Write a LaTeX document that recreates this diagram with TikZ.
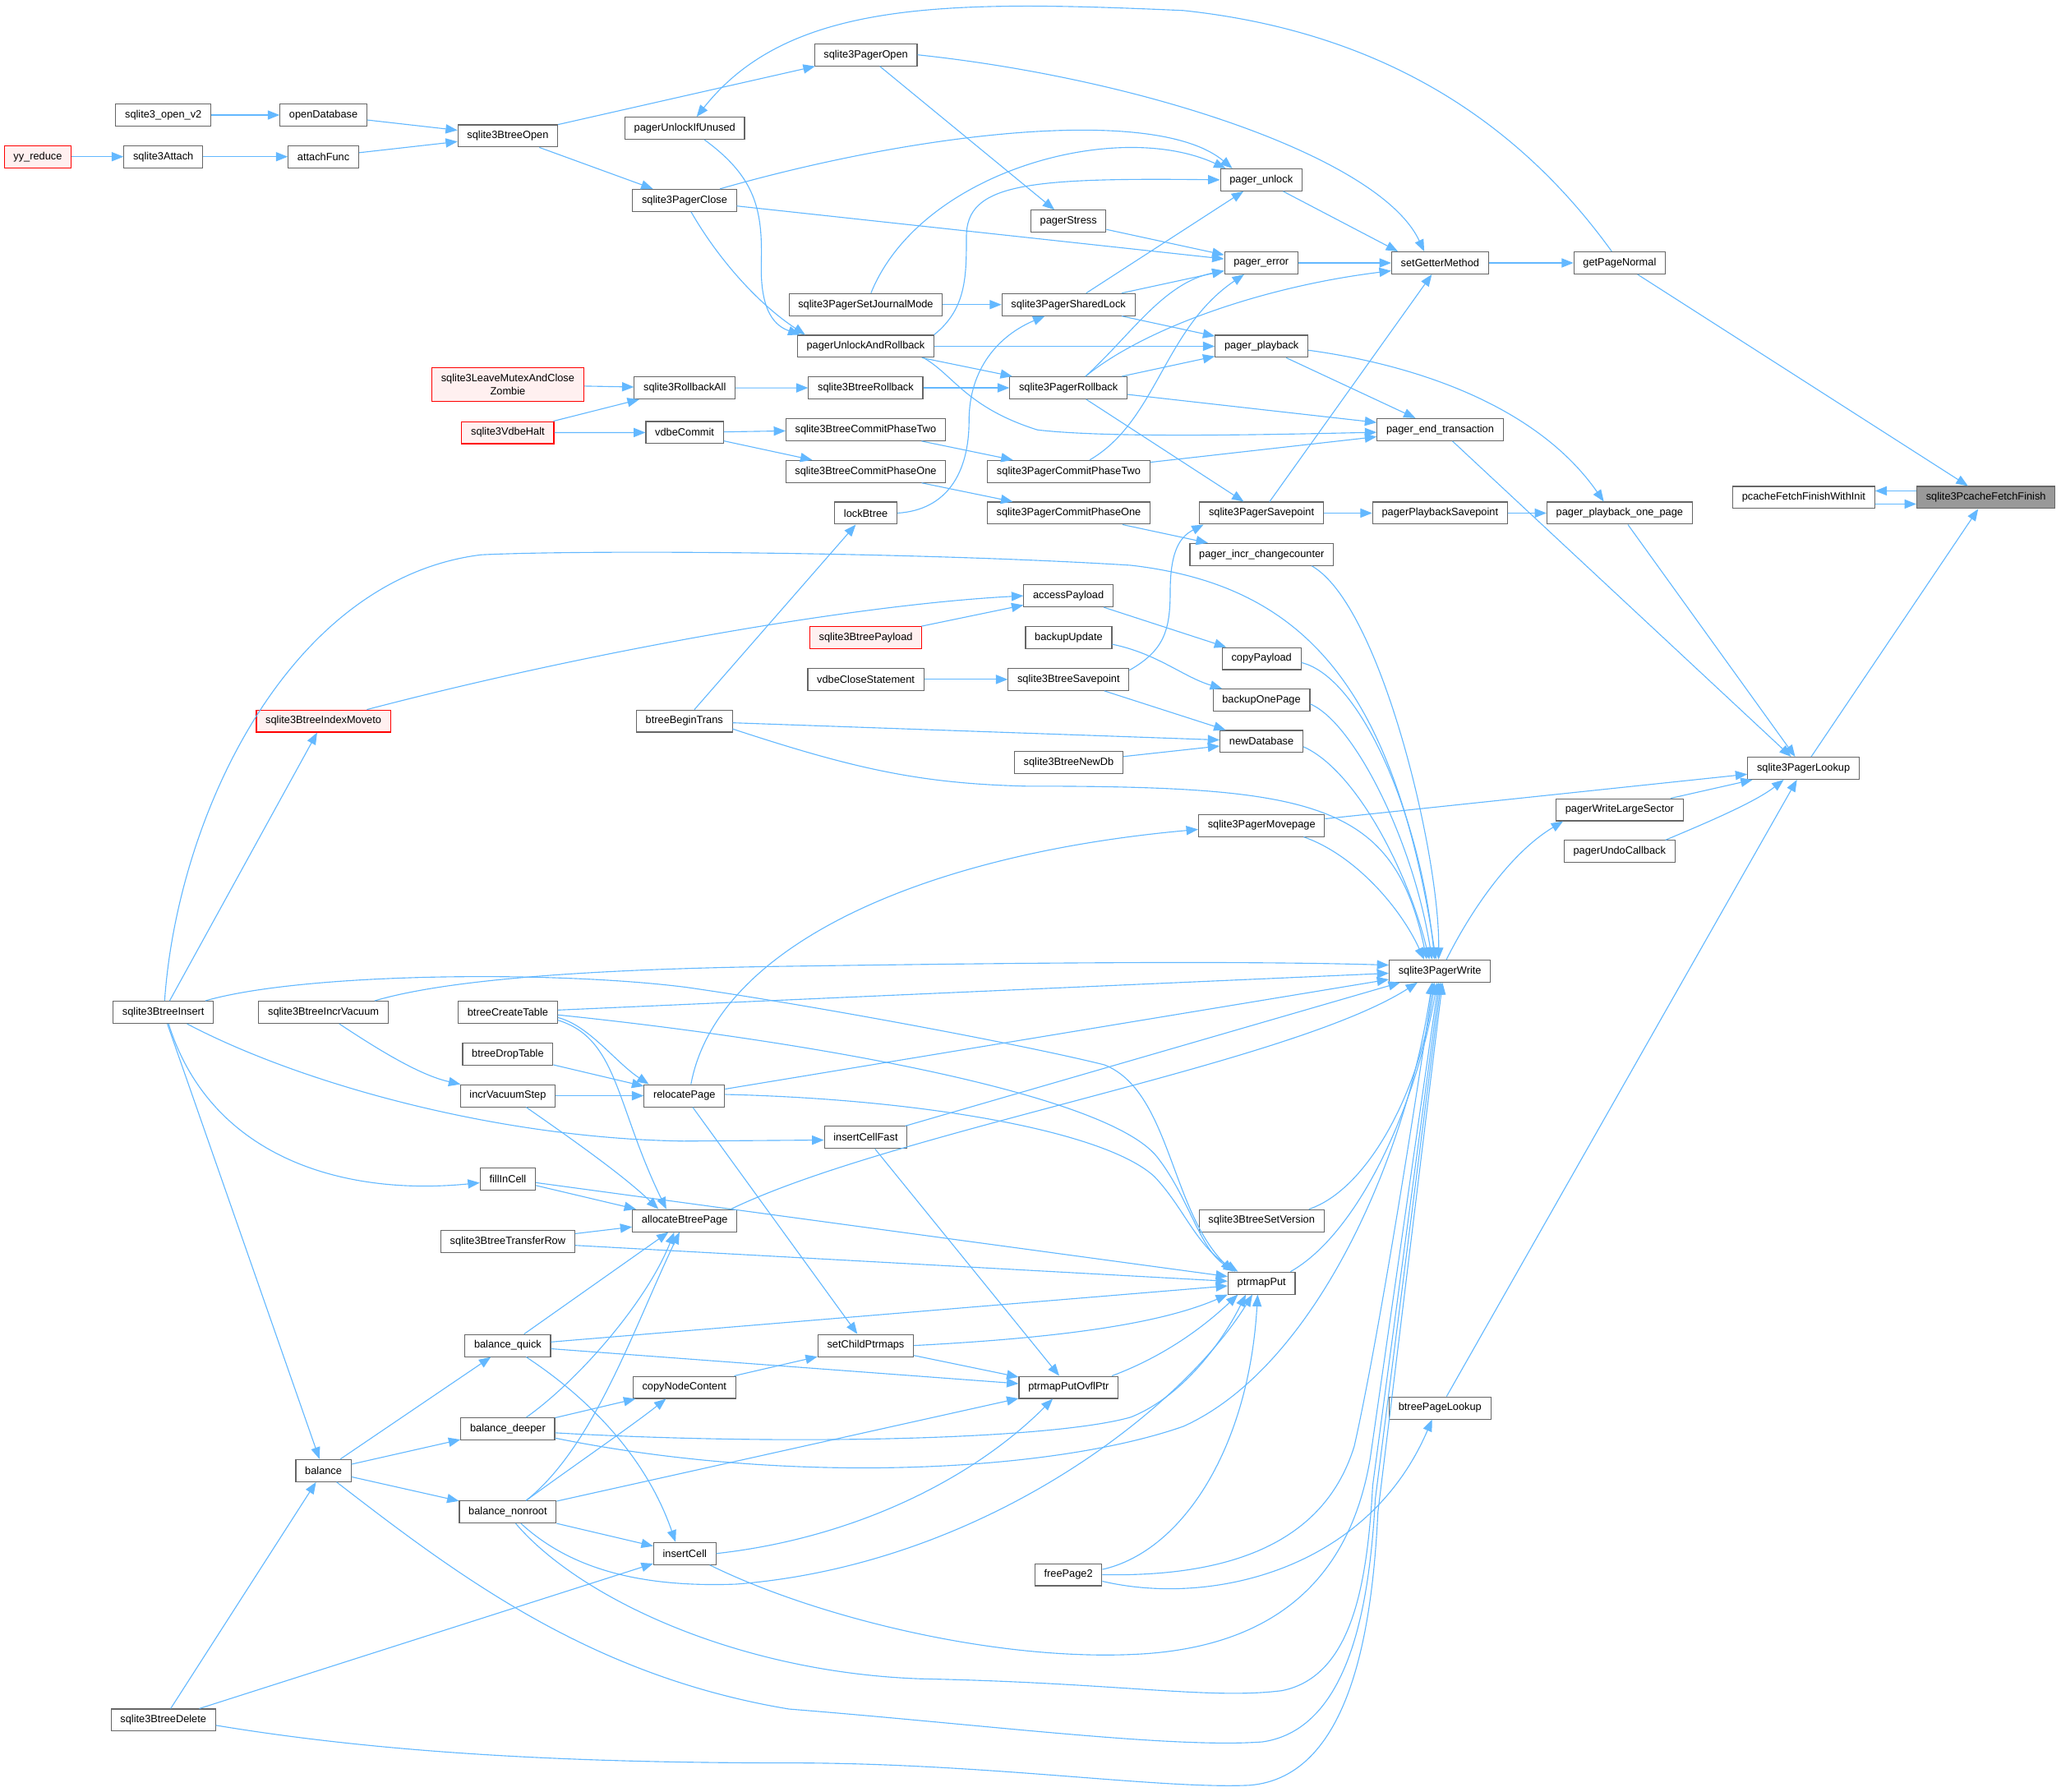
\documentclass[tikz,border=0pt]{standalone}
\usepackage{fontspec}
\setmainfont{Liberation Sans}
\usepackage{tikz}
\usetikzlibrary{arrows.meta}
\definecolor{edgeblue}{RGB}{99,184,255}
\definecolor{nodegray}{RGB}{102,102,102}
\definecolor{redfill}{RGB}{255,240,240}
\definecolor{rootgray}{RGB}{153,153,153}
\definecolor{redline}{RGB}{255,0,0}

\begin{document}
\begin{tikzpicture}[x=1pt,y=-1pt,
  fn/.style={draw=nodegray, fill=white, line width=0.7pt, font=\fontsize{8}{10}\selectfont,
    inner xsep=7pt, inner ysep=3pt, minimum height=16.8pt},
  fnred/.style={fn, draw=redline, fill=redfill},
  fnroot/.style={fn, fill=rootgray},
  call/.style={draw=edgeblue, line width=0.7pt, -{Triangle[length=9pt,width=7pt]}}]
\useasboundingbox (0,0) rectangle (1567.5,1362.5);

\foreach \n/\x/\y/\lbl in {
  openv2/124.2/87.5/sqlite3\_open\_v2,
  Attach/124.2/119.2/sqlite3Attach,
  openDatabase/246/87.5/openDatabase,
  attachFunc/246/119.2/attachFunc,
  BtreeInsert/124.2/770/sqlite3BtreeInsert,
  IncrVacuum/246/770/sqlite3BtreeIncrVacuum,
  balance/246/1118.6/balance,
  BtreeDelete/124.2/1308.4/sqlite3BtreeDelete,
  BtreeOpen/386.2/103.4/sqlite3BtreeOpen,
  btreeCreateTable/386.2/770/btreeCreateTable,
  btreeDropTable/386.2/801.8/btreeDropTable,
  incrVacuumStep/386.2/833.5/incrVacuumStep,
  fillInCell/386.2/896.7/fillInCell,
  TransferRow/386.2/944.5/sqlite3BtreeTransferRow,
  balanceQuick/386.2/1023.5/balance\_quick,
  balanceDeeper/386.2/1086.9/balance\_deeper,
  balanceNonroot/386.2/1150.1/balance\_nonroot,
  pagerUnlockIfUnused/520.8/97.6/pagerUnlockIfUnused,
  PagerClose/520.6/152.4/sqlite3PagerClose,
  RollbackAll/520.8/295.1/sqlite3RollbackAll,
  vdbeCommit/520.7/329/vdbeCommit,
  btreeBeginTrans/520.5/548.5/btreeBeginTrans,
  relocatePage/520.5/833.5/relocatePage,
  allocateBtreePage/520.8/928.5/allocateBtreePage,
  copyNodeContent/520.5/1055.3/copyNodeContent,
  insertCell/520.8/1181.7/insertCell,
  PagerOpen/658.5/41.7/sqlite3PagerOpen,
  SetJournalMode/658.4/231.7/sqlite3PagerSetJournalMode,
  UnlockAndRollback/658.4/263.4/pagerUnlockAndRollback,
  BtreeRollback/658.4/295/sqlite3BtreeRollback,
  BtreeCommitTwo/658.4/326.8/sqlite3BtreeCommitPhaseTwo,
  BtreeCommitOne/658.4/358.6/sqlite3BtreeCommitPhaseOne,
  lockBtree/658.5/390.3/lockBtree,
  vdbeCloseStatement/658.5/516.8/vdbeCloseStatement,
  insertCellFast/658.4/865.2/insertCellFast,
  setChildPtrmaps/658.4/1023.5/setChildPtrmaps,
  pagerStress/812.6/168.3/pagerStress,
  SharedLock/812.6/231.7/sqlite3PagerSharedLock,
  PagerRollback/812.6/295/sqlite3PagerRollback,
  PagerCommitTwo/812.8/358.6/sqlite3PagerCommitPhaseTwo,
  PagerCommitOne/812.8/390.3/sqlite3PagerCommitPhaseOne,
  accessPayload/812.6/453.2/accessPayload,
  backupUpdate/812.8/485.1/backupUpdate,
  BtreeSavepoint/812.7/516.8/sqlite3BtreeSavepoint,
  BtreeNewDb/812.8/580/sqlite3BtreeNewDb,
  ptrmapPutOvflPtr/812.7/1055.3/ptrmapPutOvflPtr,
  freePage2/812.6/1197.8/freePage2,
  pagerUnlock/959.2/136.8/pager\_unlock,
  pagerError/959.2/200/pager\_error,
  pagerPlayback/959.5/263.4/pager\_playback,
  PagerSavepoint/959.4/390.3/sqlite3PagerSavepoint,
  incrChangecounter/959.6/421.7/pager\_incr\_changecounter,
  copyPayload/959.5/501/copyPayload,
  backupOnePage/959.4/532.5/backupOnePage,
  newDatabase/959.4/564/newDatabase,
  PagerMovepage/959.5/627.9/sqlite3PagerMovepage,
  SetVersion/959.5/928.5/sqlite3BtreeSetVersion,
  ptrmapPut/959.5/976/ptrmapPut,
  setGetterMethod/1095.2/200/setGetterMethod,
  endTransaction/1095.3/326.8/pager\_end\_transaction,
  PlaybackSavepoint/1095.2/390.3/pagerPlaybackSavepoint,
  PagerWrite/1095.1/738.6/sqlite3PagerWrite,
  btreePageLookup/1095.2/1071/btreePageLookup,
  getPageNormal/1231.8/200/getPageNormal,
  playbackOnePage/1231.8/390.3/pager\_playback\_one\_page,
  WriteLargeSector/1231.8/616/pagerWriteLargeSector,
  UndoCallback/1231.7/647.7/pagerUndoCallback,
  FinishWithInit/1371.8/378.4/pcacheFetchFinishWithInit,
  PagerLookup/1371.6/584.4/sqlite3PagerLookup}
  \node[fn] (\n) at (\x,\y) {\lbl};

\node[fnred] (yyreduce) at (28.7,119.2) {yy\_reduce};
\node[fnred, align=center, inner ysep=5pt] (LeaveMutex) at (386.2,292.6) {sqlite3LeaveMutexAndClose\\Zombie};
\node[fnred] (VdbeHalt) at (386.2,329.1) {sqlite3VdbeHalt};
\node[fnred] (IndexMoveto) at (246,548.5) {sqlite3BtreeIndexMoveto};
\node[fnred] (BtreePayload) at (658.5,485.1) {sqlite3BtreePayload};
\node[fnroot] (FetchFinish) at (1510.4,378.4) {sqlite3PcacheFetchFinish};

\foreach \a/\b in {openv2/openDatabase, openDatabase/BtreeOpen, yyreduce/Attach,
  Attach/attachFunc, attachFunc/BtreeOpen, BtreeOpen/PagerOpen, BtreeOpen/PagerClose,
  PagerOpen/pagerStress, pagerStress/pagerError, PagerClose/pagerError,
  pagerError/setGetterMethod, SharedLock/pagerUnlock, SharedLock/pagerError,
  SetJournalMode/SharedLock, SharedLock/pagerPlayback, UnlockAndRollback/pagerPlayback,
  PagerRollback/pagerPlayback, UnlockAndRollback/PagerRollback, LeaveMutex/RollbackAll,
  VdbeHalt/RollbackAll, VdbeHalt/vdbeCommit, RollbackAll/BtreeRollback,
  BtreeRollback/PagerRollback, vdbeCommit/BtreeCommitTwo, vdbeCommit/BtreeCommitOne,
  BtreeCommitTwo/PagerCommitTwo, BtreeCommitOne/PagerCommitOne,
  PagerRollback/endTransaction, PagerCommitTwo/endTransaction,
  pagerPlayback/endTransaction, PagerRollback/PagerSavepoint,
  PagerSavepoint/setGetterMethod, PagerSavepoint/PlaybackSavepoint,
  PlaybackSavepoint/playbackOnePage, PagerCommitOne/incrChangecounter,
  btreeBeginTrans/lockBtree, setGetterMethod/getPageNormal, getPageNormal/FetchFinish,
  PagerLookup/FetchFinish, endTransaction/PagerLookup, playbackOnePage/PagerLookup,
  PagerMovepage/PagerLookup, WriteLargeSector/PagerLookup, btreePageLookup/PagerLookup,
  BtreePayload/accessPayload, accessPayload/copyPayload,
  vdbeCloseStatement/BtreeSavepoint, BtreeSavepoint/newDatabase,
  btreeBeginTrans/newDatabase, BtreeNewDb/newDatabase, BtreeInsert/IndexMoveto,
  BtreeInsert/balance, btreeCreateTable/PagerWrite, relocatePage/PagerWrite,
  insertCellFast/PagerWrite, btreeDropTable/relocatePage, incrVacuumStep/relocatePage,
  fillInCell/allocateBtreePage, TransferRow/allocateBtreePage,
  balanceQuick/allocateBtreePage, relocatePage/setChildPtrmaps, TransferRow/ptrmapPut,
  balanceQuick/ptrmapPut, balanceQuick/ptrmapPutOvflPtr,
  balanceNonroot/ptrmapPutOvflPtr, setChildPtrmaps/ptrmapPutOvflPtr,
  insertCellFast/ptrmapPutOvflPtr, copyNodeContent/setChildPtrmaps,
  balanceDeeper/copyNodeContent, balance/balanceQuick, balance/balanceDeeper,
  balance/balanceNonroot, balanceNonroot/insertCell, BtreeDelete/balance,
  BtreeDelete/insertCell}
  \draw[call] (\a) -- (\b);

\draw[call] (pagerUnlock) -- ([xshift=-32pt]setGetterMethod.north);
\draw[call] (fillInCell) -- ([yshift=5pt]ptrmapPut.west);
\draw[call] ([yshift=5pt]FetchFinish.west) -- ([yshift=5pt]FinishWithInit.east);
\draw[call] ([yshift=-5pt]FinishWithInit.east) -- ([yshift=-5pt]FetchFinish.west);

\draw[call] (PagerOpen.east) .. controls (870,60) and (1050,120) .. ([xshift=-12pt]setGetterMethod.north);
\draw[call] ([xshift=-6pt]getPageNormal.north) .. controls (1160,100) and (1060,25) .. (900,8)
  .. controls (720,0) and (600,0) .. ([xshift=9pt]pagerUnlockIfUnused.north);
\draw[call] ([xshift=15pt]pagerUnlockIfUnused.south) .. controls (575,135) and (580,160) .. (579,200)
  .. controls (578,238) and (590,248) .. ([xshift=-50pt]UnlockAndRollback.north);
\draw[call] ([xshift=5pt]PagerClose.south) .. controls (545,195) and (575,230) .. ([xshift=-46pt]UnlockAndRollback.north);
\draw[call] ([xshift=27pt]PagerClose.north) .. controls (700,100) and (880,80) .. ([xshift=-22pt]pagerUnlock.north);
\draw[call] ([xshift=4pt]SetJournalMode.north) .. controls (700,130) and (850,90) .. ([xshift=-27pt]pagerUnlock.north);
\draw[call] ([xshift=52pt]UnlockAndRollback.north) .. controls (735,235) and (735,210) .. (735,180)
  .. controls (735,140) and (780,135) .. (pagerUnlock.west);
\draw[call] ([xshift=13pt]PagerRollback.north) .. controls (860,255) and (885,215) .. ([yshift=-6pt]pagerError.west);
\draw[call] ([xshift=13pt]PagerRollback.north) .. controls (870,250) and (960,218) .. ([yshift=-6pt]setGetterMethod.west);
\draw[call] ([xshift=16pt]PagerCommitTwo.north) .. controls (880,320) and (885,250) .. ([xshift=-13pt]pagerError.south);
\draw[call] ([xshift=44pt]UnlockAndRollback.south) .. controls (725,285) and (735,310) .. (789,327)
  .. controls (840,333) and (950,331) .. ([yshift=-2pt]endTransaction.west);
\draw[call] ([yshift=-3pt]pagerPlayback.east) .. controls (1080,278) and (1170,310) .. ([xshift=-12pt]playbackOnePage.north);
\draw[call] (lockBtree.east) .. controls (720,388) and (737,360) .. (737,320)
  .. controls (737,280) and (760,255) .. ([xshift=-18pt]SharedLock.south);
\draw[call] ([yshift=7pt]BtreeSavepoint.east) .. controls (885,495) and (890,480) .. (890,450)
  .. controls (890,418) and (898,408) .. ([xshift=-44pt]PagerSavepoint.south);
\draw[call] ([xshift=33pt]IndexMoveto.north) .. controls (450,495) and (650,460) .. (accessPayload.west);
\draw[call] ([yshift=-5pt]backupUpdate.east) .. controls (880,497) and (900,515) .. ([xshift=-30pt]backupOnePage.north);
\draw[call] ([yshift=-6pt]btreeBeginTrans.east) .. controls (650,585) and (700,596) .. (780,598)
  .. controls (1000,598) and (1060,610) .. ([xshift=-10pt]PagerWrite.north);
\draw[call] ([xshift=1pt]BtreeInsert.north) .. controls (135,620) and (220,440) .. (366,422)
  .. controls (450,418) and (700,420) .. (860,430) .. controls (990,445) and (1060,520) .. ([xshift=-3pt]PagerWrite.north);
\draw[call] ([xshift=38pt]incrChangecounter.south) .. controls (1050,460) and (1095,650) .. ([xshift=-1pt]PagerWrite.north);
\draw[call] ([yshift=-3pt]copyPayload.east) .. controls (1035,515) and (1080,620) .. ([xshift=-4pt]PagerWrite.north);
\draw[call] ([yshift=-3pt]backupOnePage.east) .. controls (1030,550) and (1075,640) .. ([xshift=-6pt]PagerWrite.north);
\draw[call] ([yshift=-4pt]newDatabase.east) .. controls (1030,585) and (1070,660) .. ([xshift=-8pt]PagerWrite.north);
\draw[call] ([xshift=32pt]PagerMovepage.south) .. controls (1030,650) and (1065,690) .. ([xshift=-12pt]PagerWrite.north);
\draw[call] ([xshift=5pt]relocatePage.north) .. controls (545,720) and (700,650) .. ([yshift=-3pt]PagerMovepage.west);
\draw[call] ([xshift=35pt]UndoCallback.north) .. controls (1300,625) and (1335,610) .. ([xshift=-15pt]PagerLookup.south);
\draw[call] ([xshift=5pt]PagerWrite.north) .. controls (1120,690) and (1150,648) .. ([xshift=-43pt]WriteLargeSector.south);
\draw[call] ([xshift=39pt]IncrVacuum.north) .. controls (340,745) and (450,737) .. (600,735)
  .. controls (800,732) and (950,731) .. ([yshift=4.5pt]PagerWrite.west);
\draw[call] ([xshift=35pt]allocateBtreePage.north) .. controls (680,860) and (980,810) .. ([xshift=-17pt]PagerWrite.south);
\draw[call] ([xshift=32pt]BtreeInsert.north) .. controls (230,740) and (420,738) .. (522,751)
  .. controls (620,765) and (780,795) .. (840,810) .. controls (890,830) and (890,920) .. ([xshift=-22pt]ptrmapPut.north);
\draw[call] ([yshift=-2pt]btreeCreateTable.east) .. controls (600,790) and (840,830) .. (880,880)
  .. controls (905,912) and (912,950) .. ([xshift=-20pt]ptrmapPut.north);
\draw[call] ([yshift=1pt]relocatePage.east) .. controls (700,836) and (840,860) .. (878,895)
  .. controls (900,918) and (910,948) .. ([xshift=-18pt]ptrmapPut.north);
\draw[call] (setChildPtrmaps.east) .. controls (800,1018) and (880,1008) .. (ptrmapPut.south west);
\draw[call] ([xshift=33pt]ptrmapPutOvflPtr.north) .. controls (890,1030) and (920,1005) .. ([xshift=-18pt]ptrmapPut.south);
\draw[call] ([yshift=-3pt]balanceDeeper.east) .. controls (600,1100) and (800,1095) .. (860,1078)
  .. controls (900,1062) and (930,1020) .. ([xshift=-12pt]ptrmapPut.south);
\draw[call] ([xshift=10pt]balanceNonroot.south) .. controls (430,1190) and (480,1208) .. (560,1205)
  .. controls (750,1190) and (900,1070) .. ([xshift=-7pt]ptrmapPut.south);
\draw[call] ([yshift=4pt]freePage2.east) .. controls (900,1180) and (950,1100) .. ([xshift=-3pt]ptrmapPut.south);
\draw[call] ([xshift=22pt]ptrmapPut.north) .. controls (1030,940) and (1075,850) .. ([xshift=-2pt]PagerWrite.south);
\draw[call] ([xshift=36pt]SetVersion.north) .. controls (1040,905) and (1080,830) .. ([xshift=-4pt]PagerWrite.south);
\draw[call] ([yshift=-7pt]balanceDeeper.east) .. controls (600,1130) and (800,1120) .. (900,1085)
  .. controls (1000,1040) and (1070,880) .. ([xshift=-6pt]PagerWrite.south);
\draw[call] (freePage2.east) .. controls (950,1200) and (1010,1165) .. (1030,1100)
  .. controls (1048,1020) and (1075,850) .. ([xshift=-5pt]PagerWrite.south);
\draw[call] ([yshift=-5pt]freePage2.east) .. controls (920,1222) and (1040,1195) .. ([xshift=-6pt]btreePageLookup.south);
\draw[call] ([xshift=19pt]insertCell.south) .. controls (620,1230) and (760,1265) .. (870,1258)
  .. controls (990,1250) and (1030,1180) .. (1042,1110) -- ([xshift=-1pt]PagerWrite.south);
\draw[call] ([xshift=6pt]balanceNonroot.south) .. controls (440,1215) and (560,1272) .. (700,1277)
  .. controls (850,1280) and (920,1293) .. (975,1286) .. controls (1030,1275) and (1040,1200) .. (1044,1130)
  -- (PagerWrite.south);
\draw[call] ([xshift=10pt]balance.south) .. controls (350,1200) and (450,1275) .. (600,1300)
  .. controls (750,1312) and (890,1330) .. (960,1325) .. controls (1030,1315) and (1042,1210) .. (1046,1140)
  -- ([xshift=1pt]PagerWrite.south);
\draw[call] ([yshift=-4pt]BtreeDelete.east) .. controls (300,1335) and (450,1341) .. (600,1341)
  .. controls (750,1341) and (880,1361) .. (950,1358) .. controls (1030,1352) and (1044,1230) .. (1048,1150)
  -- ([xshift=2pt]PagerWrite.south);
\draw[call] ([xshift=4pt]BtreeInsert.south) .. controls (160,880) and (260,910) .. ([yshift=-3pt]fillInCell.west);
\draw[call] ([xshift=18pt]BtreeInsert.south) .. controls (230,825) and (380,866) .. (520,868) -- ([yshift=-2pt]insertCellFast.west);
\draw[call] ([xshift=12pt]IncrVacuum.south) .. controls (290,800) and (320,818) .. ([xshift=-36pt]incrVacuumStep.north);
\draw[call] ([yshift=-4pt]btreeCreateTable.east) .. controls (448,780) and (468,808) .. ([xshift=-27pt]relocatePage.north);
\draw[call] ([yshift=-6pt]btreeCreateTable.east) .. controls (470,790) and (468,840) .. ([xshift=-14pt]allocateBtreePage.north);
\draw[call] ([xshift=14pt]incrVacuumStep.south) .. controls (440,870) and (475,895) .. ([xshift=-20pt]allocateBtreePage.north);
\draw[call] ([xshift=14pt]balanceDeeper.north) .. controls (440,1050) and (492,990) .. ([xshift=-8pt]allocateBtreePage.south);
\draw[call] ([xshift=14pt]balanceNonroot.north) .. controls (452,1100) and (482,1010) .. ([xshift=-4pt]allocateBtreePage.south);
\draw[call] ([xshift=14pt]balanceNonroot.north) .. controls (432,1118) and (480,1085) .. ([xshift=-14pt]copyNodeContent.south);
\draw[call] ([xshift=14pt]balanceQuick.south) .. controls (450,1065) and (492,1110) .. ([xshift=-7pt]insertCell.north);
\draw[call] (insertCell.east) .. controls (650,1170) and (740,1125) .. ([xshift=-12pt]ptrmapPutOvflPtr.south);
\end{tikzpicture}
\end{document}
